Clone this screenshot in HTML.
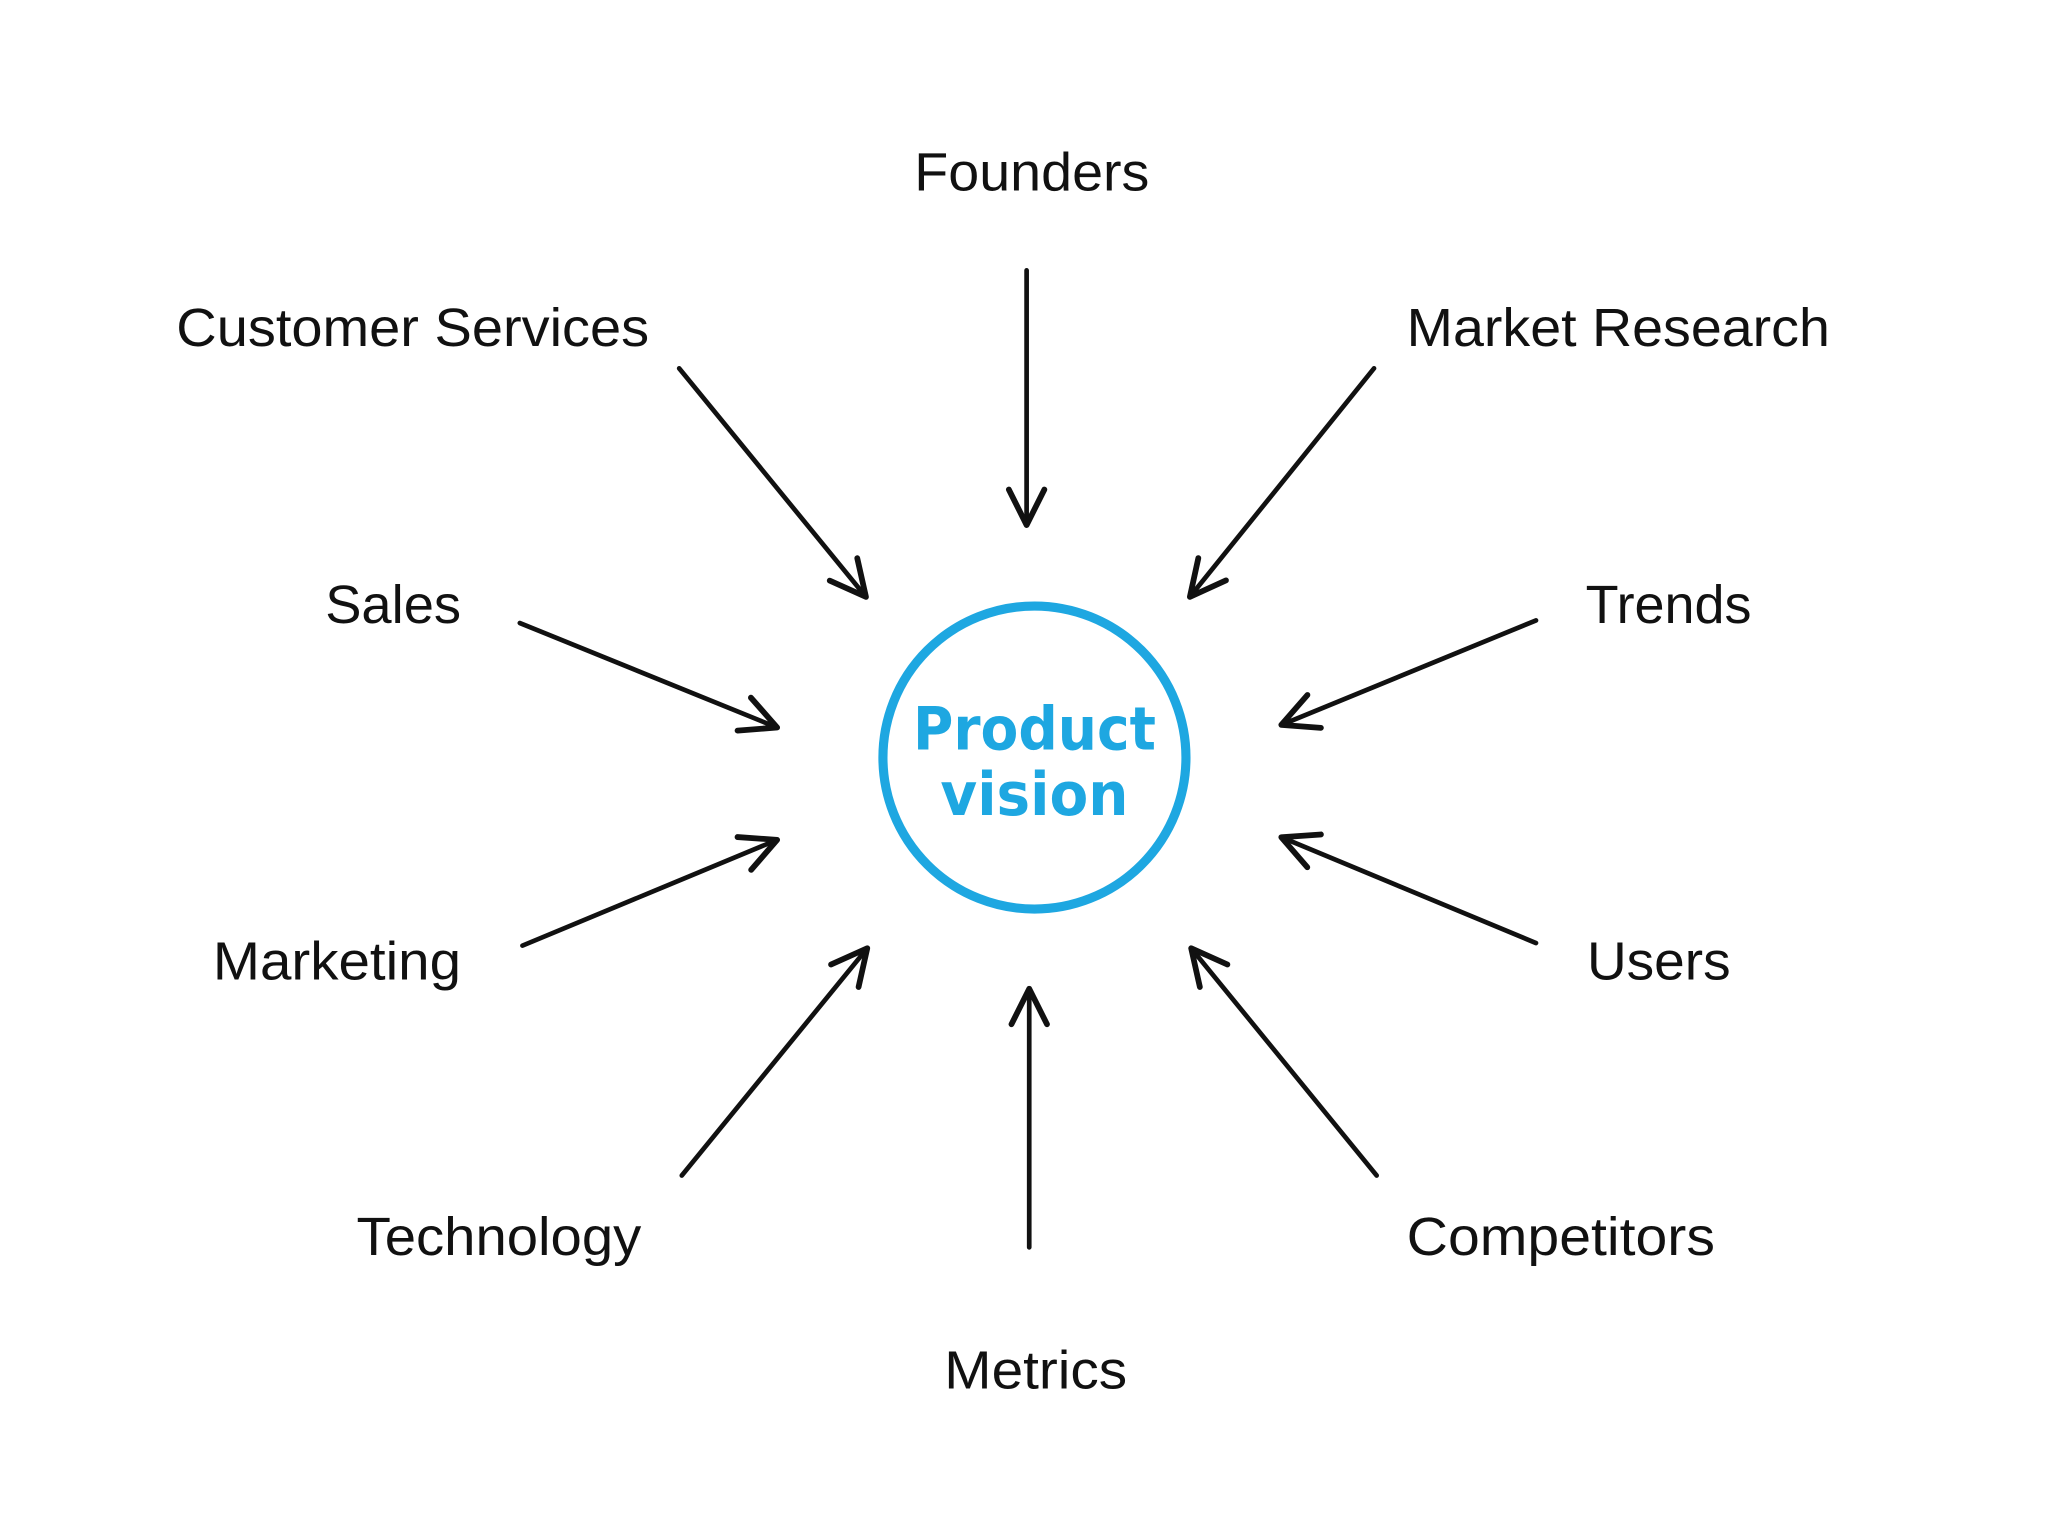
<!DOCTYPE html>
<html><head><meta charset="utf-8"><style>html,body{margin:0;padding:0;background:#fff}svg{display:block}</style></head>
<body>
<svg width="2048" height="1536" viewBox="0 0 1568 1176" xmlns="http://www.w3.org/2000/svg">
<rect width="1568" height="1176" fill="#fff"/>
<defs>
<marker id="a" viewBox="0 0 20 20" refX="18" refY="10" markerWidth="34" markerHeight="34" markerUnits="userSpaceOnUse" orient="auto">
<path d="M2,2 L18,10 L2,18" fill="none" stroke="#111" stroke-width="2.6" stroke-linecap="round" stroke-linejoin="round"/>
</marker>
</defs>
<g stroke="#111" stroke-width="3.6" stroke-linecap="round" marker-end="url(#a)" fill="none">
<line x1="786" y1="207" x2="786" y2="402"/>
<line x1="520" y1="282" x2="663" y2="457"/>
<line x1="1052" y1="282" x2="911" y2="457"/>
<line x1="398" y1="477" x2="595" y2="557"/>
<line x1="1176" y1="475" x2="981" y2="555"/>
<line x1="400" y1="724" x2="595" y2="643"/>
<line x1="1176" y1="722" x2="981" y2="641"/>
<line x1="522" y1="900" x2="664" y2="726"/>
<line x1="1054" y1="900" x2="912" y2="726"/>
<line x1="788" y1="955" x2="788" y2="757"/>
</g>
<circle cx="792" cy="580" r="116" fill="none" stroke="#1ea7e1" stroke-width="7"/>
<g fill="#1ea7e1" font-family="'DejaVu Sans', sans-serif" font-size="46" font-weight="bold" text-anchor="middle">
<text x="792" y="574" textLength="186" lengthAdjust="spacingAndGlyphs">Product</text>
<text x="792" y="624" textLength="144" lengthAdjust="spacingAndGlyphs">vision</text>
</g>
<g fill="#111" font-family="'Liberation Sans', sans-serif" font-size="41">
<text x="700" y="146" textLength="180" lengthAdjust="spacingAndGlyphs">Founders</text>
<text x="135" y="265" textLength="362" lengthAdjust="spacingAndGlyphs">Customer Services</text>
<text x="1077" y="265" textLength="324" lengthAdjust="spacingAndGlyphs">Market Research</text>
<text x="249" y="477" textLength="104" lengthAdjust="spacingAndGlyphs">Sales</text>
<text x="1214" y="477" textLength="127" lengthAdjust="spacingAndGlyphs">Trends</text>
<text x="163" y="750" textLength="190" lengthAdjust="spacingAndGlyphs">Marketing</text>
<text x="1215" y="750" textLength="110" lengthAdjust="spacingAndGlyphs">Users</text>
<text x="273" y="961" textLength="218" lengthAdjust="spacingAndGlyphs">Technology</text>
<text x="1077" y="961" textLength="236" lengthAdjust="spacingAndGlyphs">Competitors</text>
<text x="723" y="1063" textLength="140" lengthAdjust="spacingAndGlyphs">Metrics</text>
</g>
</svg>
</body></html>
